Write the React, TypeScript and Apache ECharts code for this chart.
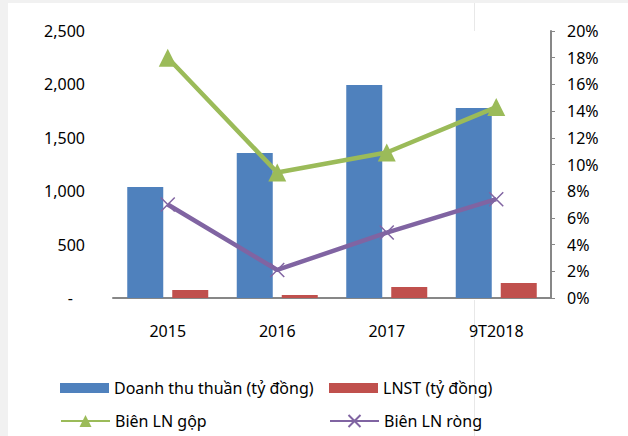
import React, { useEffect, useRef } from "react";
import * as echarts from "echarts";

const categories = ["2015", "2016", "2017", "9T2018"];
const revenue = [1040, 1358, 1995, 1779];
const netProfit = [75, 28, 103, 140];
const grossMargin = [18.0, 9.4, 10.9, 14.3];
const netMargin = [7.0, 2.1, 4.9, 7.4];

const FONT = "'Noto Sans', 'DejaVu Sans', sans-serif";
const AXIS_GRAY = "#878787";

export default function App() {
  const ref = useRef<HTMLDivElement>(null);
  useEffect(() => {
    if (!ref.current) return;
    const chart = echarts.init(ref.current, undefined, { renderer: "svg" });
    const legendText = { fontSize: 16, color: "#000", fontFamily: FONT };
    chart.setOption({
      animation: false,
      backgroundColor: "#f1f1f1",
      textStyle: { fontFamily: FONT },
      graphic: [
        { type: "rect", z: -10, silent: true, shape: { x: 8, y: 3, width: 620, height: 433 }, style: { fill: "#ffffff" } },
        { type: "line", z: -9, silent: true, shape: { x1: 474.5, y1: 3, x2: 474.5, y2: 31 }, style: { stroke: "#e8e8e8", lineWidth: 1 } },
        { type: "line", z: -9, silent: true, shape: { x1: 474.5, y1: 300, x2: 474.5, y2: 436 }, style: { stroke: "#e8e8e8", lineWidth: 1 } },
      ],
      grid: { left: 113, right: 77, top: 31, bottom: 138 },
      legend: [
        { left: 60, top: 380, padding: 0, data: ["Doanh thu thuần (tỷ đồng)"], icon: "rect", itemWidth: 49, itemHeight: 10, textStyle: legendText },
        { left: 329, top: 380, padding: 0, data: ["LNST (tỷ đồng)"], icon: "rect", itemWidth: 49, itemHeight: 10, textStyle: legendText },
        { left: 60, top: 413, padding: 0, data: ["Biên LN gộp"], itemWidth: 49, itemHeight: 15, textStyle: legendText },
        { left: 329, top: 413, padding: 0, data: ["Biên LN ròng"], itemWidth: 49, itemHeight: 15, textStyle: legendText },
      ],
      xAxis: {
        type: "category",
        data: categories,
        axisLine: { show: true, lineStyle: { color: AXIS_GRAY, width: 2 } },
        axisTick: { show: false },
        axisLabel: { fontSize: 16, color: "#000", margin: 25, fontFamily: FONT },
      },
      yAxis: [
        {
          type: "value",
          min: 0,
          max: 2500,
          interval: 500,
          axisLine: { show: false },
          axisTick: { show: false },
          splitLine: { show: false },
          axisLabel: {
            fontSize: 16,
            color: "#000",
            margin: 28,
            fontFamily: FONT,
            formatter: (v: number) => (v === 0 ? "{d|-}" : v.toLocaleString("en-US")),
            rich: { d: { fontSize: 16, color: "#000", fontFamily: FONT, padding: [0, 12, 0, 0] } },
          },
        },
        {
          type: "value",
          min: 0,
          max: 20,
          interval: 2,
          position: "right",
          axisLine: { show: true, lineStyle: { color: AXIS_GRAY, width: 2 } },
          axisTick: { show: true, inside: false, length: 4, lineStyle: { color: AXIS_GRAY, width: 1 } },
          splitLine: { show: false },
          axisLabel: { fontSize: 16, color: "#000", margin: 16, fontFamily: FONT, formatter: "{value}%" },
        },
      ],
      series: [
        {
          name: "Doanh thu thuần (tỷ đồng)",
          type: "bar",
          data: revenue,
          barWidth: 36,
          barGap: "25%",
          itemStyle: { color: "#4f81bd" },
        },
        {
          name: "LNST (tỷ đồng)",
          type: "bar",
          data: netProfit,
          barWidth: 36,
          itemStyle: { color: "#c0504d" },
        },
        {
          name: "Biên LN gộp",
          type: "line",
          yAxisIndex: 1,
          data: grossMargin,
          symbol: "triangle",
          symbolSize: 18,
          lineStyle: { color: "#9bbb59", width: 4.5 },
          itemStyle: { color: "#9bbb59" },
          z: 3,
        },
        {
          name: "Biên LN ròng",
          type: "line",
          yAxisIndex: 1,
          data: netMargin,
          symbol: "path://M0,0L10,10M10,0L0,10",
          symbolSize: 14,
          lineStyle: { color: "#8064a2", width: 4.5 },
          itemStyle: { color: "#8064a2", borderColor: "#8064a2", borderWidth: 1.5 },
          z: 4,
        },
      ],
    });
    return () => chart.dispose();
  }, []);
  return (
    <div
      ref={ref}
      style={{ position: "absolute", left: 0, top: 0, width: 628, height: 436 }}
    />
  );
}
